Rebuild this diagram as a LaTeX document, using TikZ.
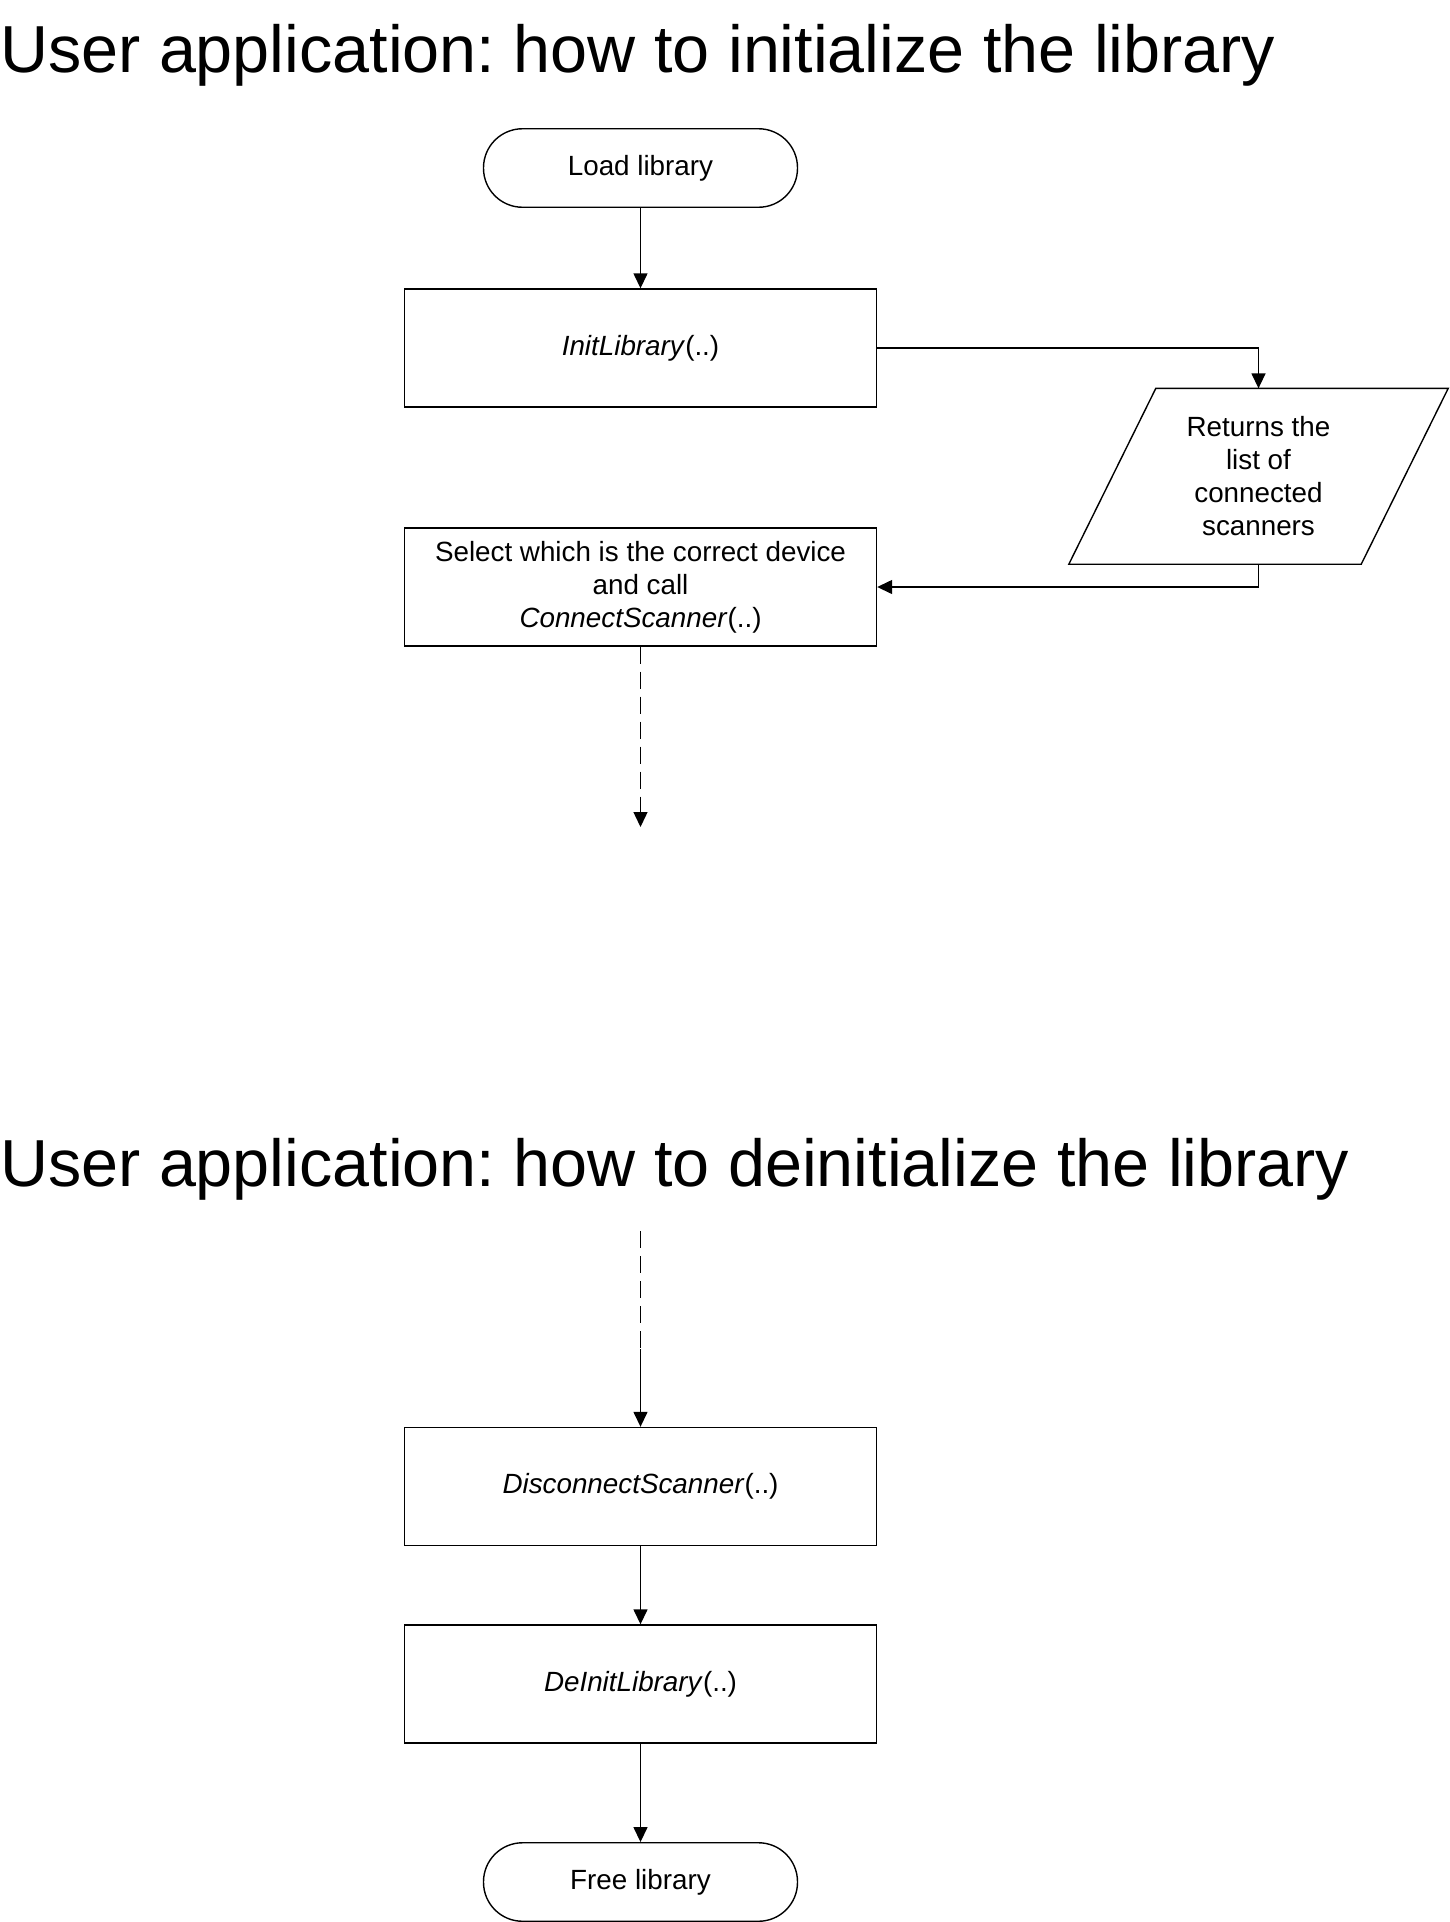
\documentclass[tikz,border=0pt]{standalone}
\usepackage{fontspec}
\setmainfont{Liberation Sans}
\usetikzlibrary{arrows.meta,calc}
\frenchspacing
\begin{document}
\begin{tikzpicture}[x=1pt,y=-1pt,
  lw/.style={line width=1.4pt},
  boxtext/.style={font=\fontsize{27.8pt}{33pt}\selectfont, align=center},
  procbox/.style={lw, draw, rectangle, minimum width=472pt, minimum height=118pt, inner sep=0pt, boxtext},
  termbox/.style={lw, draw, rectangle, rounded corners=39pt, minimum width=314pt, minimum height=78.5pt, inner sep=0pt, boxtext},
  titletext/.style={font=\fontsize{66.5pt}{80pt}\selectfont, anchor=base west, inner sep=0pt},
  flow/.style={lw, -{Triangle[length=15pt,width=14pt]}},
  dashflow/.style={lw, dash pattern=on 17pt off 8pt, -{Triangle[length=15pt,width=14pt]}},
  dashline/.style={lw, dash pattern=on 17pt off 8pt}
]
\useasboundingbox (0,0) rectangle (1449,1922);

\node[titletext] (title1) at (0,72) {User application: how to initialize the library};
\node[titletext] (title2) at (0,1186) {User application: how to deinitialize the library};

\node[termbox] (load) at (640.5,168) {Load library};
\node[procbox] (init) at (640.5,348) {\textit{InitLibrary}(..)};
\node[boxtext, minimum width=379pt, minimum height=175.5pt, inner sep=0pt] (para) at (1258.5,476.3) {Returns the\\list of\\connected\\scanners};
\draw[lw] (para.south west) -- ($(para.north west)+(87,0)$) -- (para.north east) -- ($(para.south east)+(-87,0)$) -- cycle;
\node[procbox] (select) at (640.5,587) {Select which is the correct device\\and call\\\textit{ConnectScanner}(..)};
\coordinate (end1) at (640.5,827);

\coordinate (start2) at (640.5,1231);
\coordinate (mid2) at (640.5,1349);
\node[procbox] (disc) at (640.5,1486.5) {\textit{DisconnectScanner}(..)};
\node[procbox] (deinit) at (640.5,1684) {\textit{DeInitLibrary}(..)};
\node[termbox] (free) at (640.5,1882) {Free library};

\draw[flow] (load) -- (init);
\draw[flow] (init.east) -| (para.north);
\draw[flow] (para.south) |- (select.east);
\draw[dashflow] (select.south) -- (end1);
\draw[dashline] (start2) -- (mid2);
\draw[flow] (mid2) -- (disc.north);
\draw[flow] (disc) -- (deinit);
\draw[flow] (deinit) -- (free);
\end{tikzpicture}
\end{document}
